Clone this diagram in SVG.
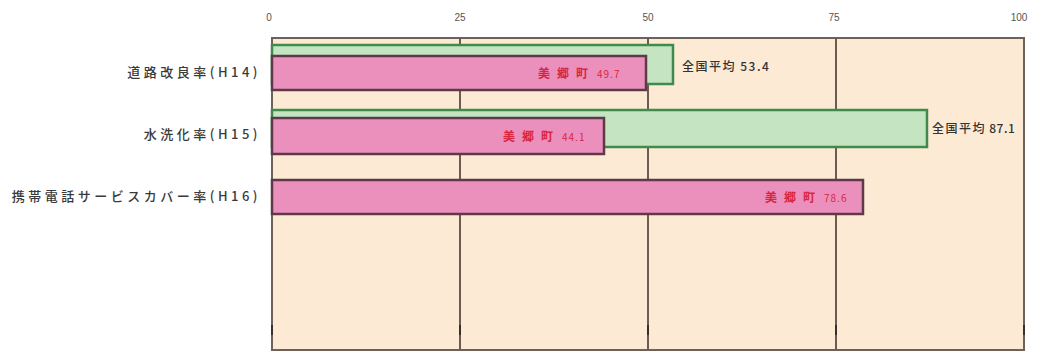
<svg xmlns="http://www.w3.org/2000/svg" width="1037" height="352" viewBox="0 0 1037 352">
<style>
.axis{font-family:"Liberation Sans","Noto Sans CJK JP",sans-serif;font-size:10px;fill:#555;text-anchor:middle}
.cat{font-family:"Noto Sans CJK JP",sans-serif;font-size:13px;font-weight:500;fill:#3a3a3a;text-anchor:end;letter-spacing:3.5px}
.grid{stroke:#6a5c52;stroke-width:2}
.tick{stroke:#222;stroke-width:1.5}
.pink{fill:#eb90bd;stroke:#5e3a48;stroke-width:2.5}
.green{fill:#c4e4c2;stroke:#3f8a4c;stroke-width:2.5}
.val{font-family:"Noto Sans CJK JP",sans-serif;font-size:12px;font-weight:bold;fill:#d8263e}
.avg{font-family:"Noto Sans CJK JP",sans-serif;font-size:12px;font-weight:500;fill:#333;letter-spacing:1.5px}
</style>
<rect width="1037" height="352" fill="#ffffff"/>
<g id="plot">
<rect x="272" y="38" width="752" height="312" fill="#fcead5" stroke="#6e6258" stroke-width="2"/>
<line class="grid" x1="460" y1="38" x2="460" y2="350"/>
<line class="grid" x1="648" y1="38" x2="648" y2="350"/>
<line class="grid" x1="836" y1="38" x2="836" y2="350"/>
<line class="tick" x1="272" y1="325" x2="272" y2="335"/>
<line class="tick" x1="460" y1="325" x2="460" y2="335"/>
<line class="tick" x1="648" y1="325" x2="648" y2="335"/>
<line class="tick" x1="836" y1="325" x2="836" y2="335"/>
<line class="tick" x1="1024" y1="325" x2="1024" y2="335"/>
</g>
<g id="axis-labels">
<text class="axis" x="269" y="21">0</text>
<text class="axis" x="460" y="21">25</text>
<text class="axis" x="648" y="21">50</text>
<text class="axis" x="834" y="21">75</text>
<text class="axis" x="1019" y="21">100</text>
</g>
<g id="row1">
<text class="cat" x="261" y="77">道路改良率(H14)</text>
<rect class="green" x="272" y="45" width="401" height="39"/>
<rect class="pink" x="272" y="56" width="374" height="34"/>
<text class="val" x="538" y="78"><tspan letter-spacing="7">美郷町</tspan><tspan dx="2" font-size="10" font-weight="normal" letter-spacing="1">49.7</tspan></text>
<text class="avg" x="682" y="71">全国平均 53.4</text>
</g>
<g id="row2">
<text class="cat" x="261" y="139">水洗化率(H15)</text>
<rect class="green" x="272" y="110" width="655" height="37"/>
<rect class="pink" x="272" y="118" width="332" height="36"/>
<text class="val" x="503" y="141"><tspan letter-spacing="7">美郷町</tspan><tspan dx="2" font-size="10" font-weight="normal" letter-spacing="1">44.1</tspan></text>
<text class="avg" x="932" y="133">全国平均<tspan letter-spacing="0.5"> 87.1</tspan></text>
</g>
<g id="row3">
<text class="cat" x="261" y="201">携帯電話サービスカバー率(H16)</text>
<rect class="pink" x="272" y="180" width="591" height="34"/>
<text class="val" x="765" y="202"><tspan letter-spacing="7">美郷町</tspan><tspan dx="2" font-size="10" font-weight="normal" letter-spacing="1">78.6</tspan></text>
</g>
<g id="connectors"></g>
</svg>
